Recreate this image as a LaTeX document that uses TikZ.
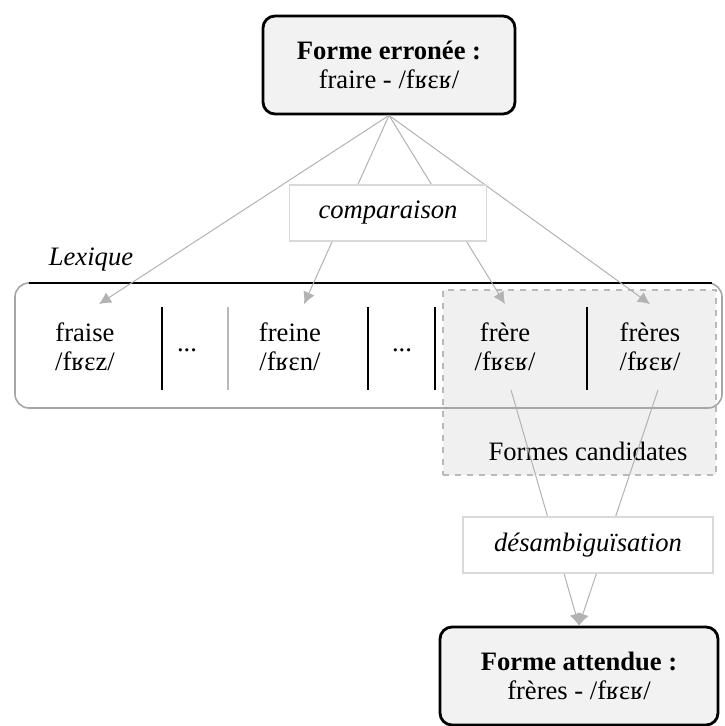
\documentclass[tikz,border=0pt]{standalone}
\usepackage{fontspec}
\setmainfont{Liberation Serif}
\usetikzlibrary{arrows.meta}
\begin{document}
\begin{tikzpicture}[x=0.5pt, y=-0.5pt,
	every node/.style={font=\fontsize{13.3}{14.5}\selectfont, align=center},
	forme/.style={draw=black, line width=1.4pt, rounded corners=6pt, fill=gray!10, minimum width=#1, minimum height=49pt, inner sep=0pt},
	proc/.style={draw=gray!30, fill=white, line width=0.6pt, minimum width=#1, minimum height=28pt, inner sep=0pt, font=\fontsize{13.3}{14.5}\selectfont\itshape},
	entree/.style={minimum width=30pt, minimum height=42.5pt, inner sep=0pt},
	lien/.style={draw=gray!60, line width=0.5pt, -{Latex[length=6pt, width=6pt]}},
	sep/.style={line width=1pt}]
	\useasboundingbox (0,0) rectangle (724,726);
	\node[forme=126pt] (err) at (389,65) {\textbf{Forme erronée :}\\fraire - /fʁɛʁ/};
	% zone des candidats
	\node[draw=gray!55, dashed, line width=0.8pt, fill=gray!12, minimum width=136.5pt, minimum height=92.5pt, inner sep=0pt] (cand) at (579.5,382.5) {};
	\node (candlab) at (588,451) {Formes candidates};
	% lexique
	\draw[gray!70, line width=0.8pt, rounded corners=7pt] (15,283) rectangle (722,408);
	\draw[line width=1.2pt] (29,283) -- (712,283);
	\node[font=\fontsize{13.3}{14.5}\selectfont\itshape] (lexlab) at (91,260) {Lexique};
	\node[entree] (fraise) at (85,347) {fraise\\/fʁɛz/};
	\node (dotsA) at (187,350) {...};
	\node[entree] (freine) at (290,347) {freine\\/fʁɛn/};
	\node (dotsB) at (402,350) {...};
	\node[entree] (frere) at (505,347) {frère\\/fʁɛʁ/};
	\node[entree] (freres) at (650,347) {frères\\/fʁɛʁ/};
	\foreach \x in {162,368,435,587}
		\draw[sep] (\x,307) -- (\x,390);
	\draw[sep, gray!55] (228,307) -- (228,390);
	\node[forme=139pt] (att) at (579,676) {\textbf{Forme attendue :}\\frères - /fʁɛʁ/};
	% comparaison et desambiguisation
	\draw[lien] (err.south) -- ([xshift=7pt]fraise.north);
	\draw[lien] (err.south) -- ([xshift=7pt]freine.north);
	\draw[lien] (err.south) -- (frere.north);
	\draw[lien] (err.south) -- (freres.north);
	\draw[lien] ([xshift=3pt]frere.south) -- (att.north);
	\draw[lien] ([xshift=4pt]freres.south) -- (att.north);
	\node[proc=98.5pt] (comp) at (388,213) {comparaison};
	\node[proc=125pt] (desamb) at (588,545) {désambiguïsation};
\end{tikzpicture}
\end{document}
